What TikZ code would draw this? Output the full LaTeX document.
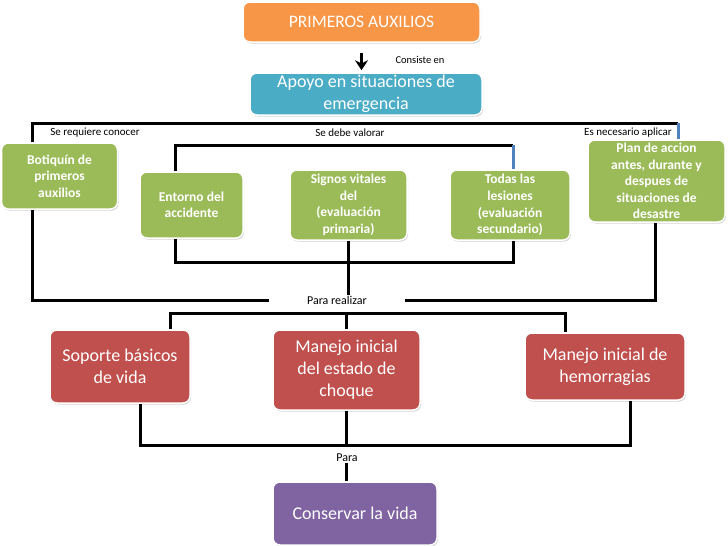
\documentclass[tikz,border=0pt]{standalone}
\usepackage{fontspec}
\setmainfont{Carlito}
\usetikzlibrary{arrows.meta}
\usetikzlibrary{shadows}
\definecolor{naranja}{HTML}{F79646}
\definecolor{celeste}{HTML}{4BACC6}
\definecolor{verde}{HTML}{9BBB59}
\definecolor{rojo}{HTML}{C0504D}
\definecolor{morado}{HTML}{8064A2}
\definecolor{azul}{HTML}{4F81BD}
\begin{document}
\begin{tikzpicture}[x=1pt,y=-1pt,
        caja/.style={draw=white, line width=1.5pt, rounded corners=7pt, text=white, align=center, inner sep=2pt,
            drop shadow={opacity=0.35, shadow xshift=1pt, shadow yshift=-1.5pt}},
        grande/.style={caja, font=\fontsize{18}{22}\selectfont},
        chica/.style={caja, fill=verde, font=\fontsize{13.5}{16.6}\selectfont\bfseries},
        nota/.style={font=\fontsize{11}{12}\selectfont, inner sep=1pt},
        linea/.style={line width=3pt}]
        \useasboundingbox (0,0) rectangle (728,546);
        \node[grande, fill=naranja, minimum width=237pt, minimum height=40pt, font=\fontsize{17.5}{20}\selectfont] (prim) at (361.5,22) {PRIMEROS AUXILIOS};
        \node[grande, fill=celeste, minimum width=232pt, minimum height=42pt] (apoyo) at (366,94) {Apoyo en situaciones de\\emergencia};
        \node[chica, minimum width=116pt, minimum height=66pt] (botiq) at (59.5,176) {Botiquín de\\primeros\\auxilios};
        \node[chica, minimum width=103pt, minimum height=66pt] (entorno) at (191.5,205) {Entorno del\\accidente};
        \node[chica, minimum width=117pt, minimum height=70pt] (signos) at (348.5,205) {Signos vitales\\del\\(evaluación\\primaria)};
        \node[chica, minimum width=120pt, minimum height=70pt] (todas) at (510,205) {Todas las\\lesiones\\(evaluación\\secundario)};
        \node[chica, minimum width=137pt, minimum height=82pt, inner ysep=0pt] (plan) at (656.5,181) {Plan de accion\\antes, durante y\\despues de\\situaciones de\\desastre};
        \node[grande, fill=rojo, minimum width=140pt, minimum height=73pt] (soporte) at (120,366.5) {Soporte básicos\\de vida};
        \node[grande, fill=rojo, minimum width=147pt, minimum height=80pt] (choque) at (346.5,370) {Manejo inicial\\del estado de\\choque};
        \node[grande, fill=rojo, minimum width=160pt, minimum height=67pt] (hemo) at (605,366.5) {Manejo inicial de\\hemorragias};
        \node[grande, fill=morado, minimum width=164pt, minimum height=63pt] (vida) at (355,513.5) {Conservar la vida};
        \node[nota, font=\fontsize{10.5}{12}\selectfont] (consiste) at (420,60) {Consiste en};
        \node[nota] (conocer) at (95,133) {Se requiere conocer};
        \node[nota] (valorar) at (350,133) {Se debe valorar};
        \node[nota] (aplicar) at (628,133) {Es necesario aplicar};
        \node[nota, font=\fontsize{12}{12}\selectfont, minimum width=135pt] (realizar) at (337,300) {Para realizar};
        \node[nota, font=\fontsize{12}{12}\selectfont] (para) at (347,458) {Para};
        \coordinate (sup1) at (32,123);
        \coordinate (sup2) at (678,123);
        \coordinate (int1) at (175,145);
        \coordinate (int2) at (513,145);
        \coordinate (inf1) at (175,262);
        \coordinate (inf2) at (513,262);
        \coordinate (ext1) at (32,300);
        \coordinate (ext2) at (655,300);
        \coordinate (r1) at (170,313);
        \coordinate (r3) at (565,313);
        \coordinate (b1) at (140,445);
        \coordinate (b3) at (630,445);
        \draw[line width=3pt, -{Stealth[length=10pt,width=13pt]}, shorten <=10pt, shorten >=2pt] (prim.south) -- (prim.south |- apoyo.north);
        \draw[linea] (botiq.north -| sup1) -- (sup1) -- (sup2);
        \draw[linea, azul] (sup2) -- (plan.north -| sup2);
        \draw[linea] (entorno.north -| int1) -- (int1) -- (int2);
        \draw[linea, azul] (int2) -- (todas.north -| int2);
        \draw[linea] (entorno.south -| inf1) -- (inf1) -- (inf2) -- (todas.south -| inf2);
        \draw[linea] (signos.south) -- (signos.south |- realizar.north);
        \draw[linea] (botiq.south -| ext1) -- (ext1) -- (realizar.west);
        \draw[linea] (realizar.east) -- (ext2) -- (plan.south -| ext2);
        \draw[linea] (soporte.north -| r1) -- (r1) -- (r3) -- (hemo.north -| r3);
        \draw[linea] (choque.north) -- (choque.north |- r1);
        \draw[linea] (soporte.south -| b1) -- (b1) -- (b3) -- (hemo.south -| b3);
        \draw[linea] (choque.south) -- (choque.south |- b1);
        \draw[linea] (para.south -| choque.south) -- (vida.north -| choque.south);
\end{tikzpicture}
\end{document}
